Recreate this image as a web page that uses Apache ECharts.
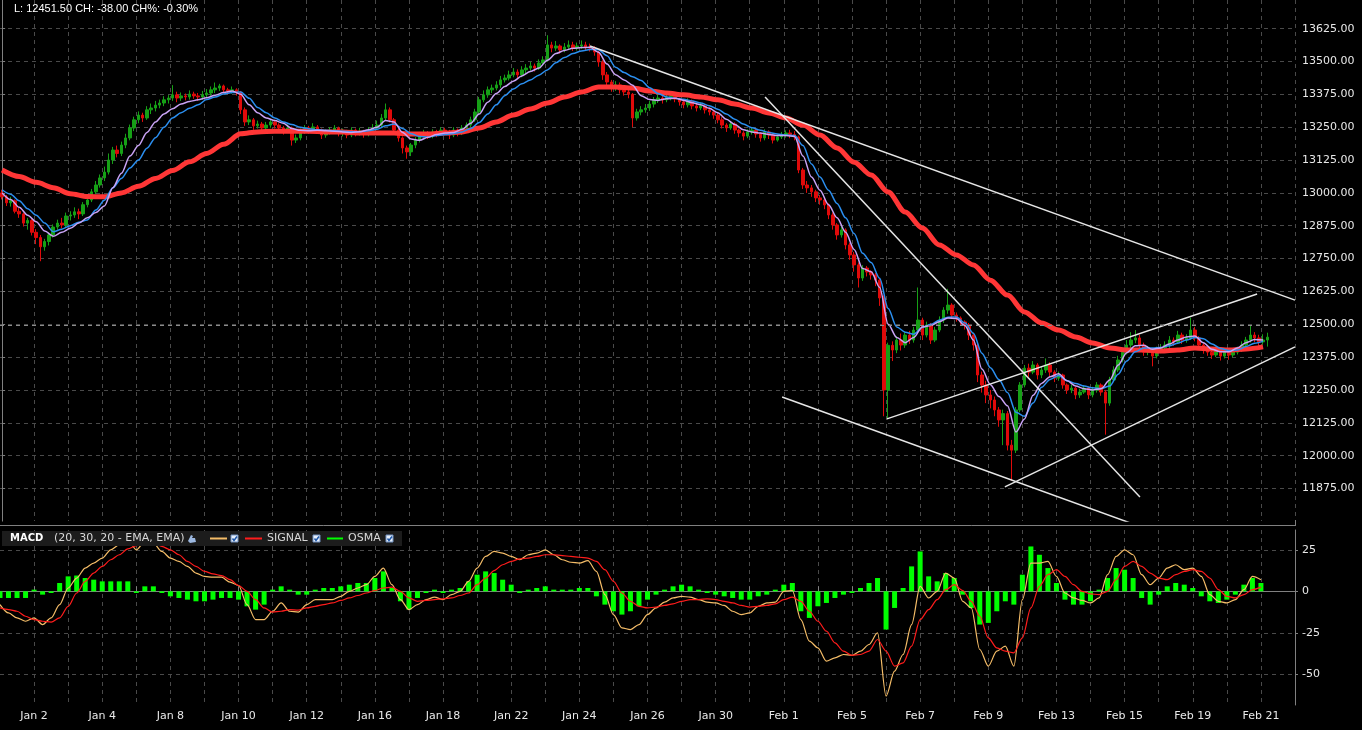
<!DOCTYPE html>
<html><head><meta charset="utf-8">
<script src="https://cdn.jsdelivr.net/npm/echarts@6.0.0/dist/echarts.min.js"></script>
<style>html,body{margin:0;padding:0;background:#000;}#c{width:1362px;height:730px;}</style>
</head><body><div id="c"></div>
<script>
// ---------- DATA ----------
const days = ['Dec 29','Jan 2','Jan 3','Jan 4','Jan 5','Jan 8','Jan 9','Jan 10','Jan 11','Jan 12','Jan 15','Jan 16','Jan 17','Jan 18','Jan 19','Jan 22','Jan 23','Jan 24','Jan 25','Jan 26','Jan 29','Jan 30','Jan 31','Feb 1','Feb 2','Feb 5','Feb 6','Feb 7','Feb 8','Feb 9','Feb 12','Feb 13','Feb 14','Feb 15','Feb 16','Feb 19','Feb 20','Feb 21'];
const barsPerDay = 8;

// [open, close, low, high] per bar
const ohlc = [
[13000,12985,12975,13012],[12985,12962,12950,12992],[12962,12970,12948,12985],[12970,12930,12922,12975],[12930,12920,12905,12942],[12920,12885,12872,12925],[12885,12895,12860,12905],[12895,12850,12838,12900],
[12850,12830,12805,12862],[12830,12795,12740,12840],[12795,12815,12780,12825],[12815,12840,12800,12850],[12840,12870,12830,12880],[12870,12885,12860,12898],[12885,12878,12865,12905],[12878,12912,12870,12925],
[12912,12916,12895,12930],[12916,12928,12905,12945],[12928,12920,12900,12940],[12920,12955,12912,12965],[12955,12973,12945,12990],[12973,13004,12965,13015],[13004,13030,12995,13045],[13030,13057,13020,13070],
[13057,13079,13045,13100],[13079,13125,13070,13150],[13125,13163,13110,13175],[13163,13150,13135,13180],[13150,13182,13140,13195],[13182,13209,13170,13225],[13209,13247,13200,13260],[13247,13278,13235,13290],
[13278,13296,13265,13310],[13296,13285,13270,13305],[13285,13316,13278,13330],[13316,13323,13300,13340],[13323,13334,13310,13350],[13334,13342,13322,13355],[13342,13354,13330,13368],[13354,13361,13340,13372],
[13361,13373,13350,13410],[13373,13361,13345,13385],[13361,13369,13350,13382],[13369,13365,13352,13378],[13365,13376,13355,13390],[13376,13369,13358,13385],[13369,13365,13350,13380],[13365,13373,13355,13388],
[13373,13380,13362,13395],[13380,13392,13370,13405],[13392,13399,13380,13420],[13399,13407,13388,13415],[13407,13392,13380,13412],[13392,13388,13375,13400],[13388,13392,13378,13405],[13392,13384,13370,13398],
[13384,13316,13300,13388],[13316,13270,13255,13325],[13270,13278,13258,13295],[13278,13255,13240,13285],[13255,13262,13245,13275],[13262,13247,13235,13270],[13247,13258,13240,13270],[13258,13270,13248,13282],
[13270,13258,13245,13278],[13258,13247,13232,13265],[13247,13239,13222,13255],[13239,13247,13228,13260],[13247,13201,13180,13252],[13201,13209,13190,13222],[13209,13232,13200,13245],[13232,13247,13225,13258],
[13247,13239,13225,13255],[13239,13251,13230,13265],[13251,13239,13228,13258],[13239,13220,13205,13245],[13220,13232,13210,13242],[13232,13239,13222,13250],[13239,13247,13230,13258],[13247,13228,13215,13252],
[13228,13232,13215,13245],[13232,13220,13208,13240],[13220,13239,13212,13250],[13239,13228,13215,13245],[13228,13235,13218,13248],[13235,13224,13210,13240],[13224,13239,13215,13250],[13239,13247,13230,13262],
[13247,13258,13240,13275],[13258,13285,13250,13300],[13285,13316,13275,13340],[13316,13278,13268,13325],[13278,13239,13228,13285],[13239,13209,13195,13245],[13209,13171,13150,13215],[13171,13156,13130,13180],
[13156,13182,13140,13190],[13182,13201,13170,13212],[13201,13220,13192,13232],[13220,13228,13210,13240],[13228,13216,13205,13235],[13216,13232,13208,13242],[13232,13224,13212,13240],[13224,13239,13218,13250],
[13239,13232,13220,13248],[13232,13220,13205,13240],[13220,13239,13212,13250],[13239,13228,13215,13245],[13228,13247,13220,13258],[13247,13258,13240,13268],[13258,13278,13250,13290],[13278,13308,13270,13320],
[13308,13354,13300,13365],[13354,13373,13345,13390],[13373,13392,13362,13405],[13392,13399,13380,13412],[13399,13411,13390,13425],[13411,13430,13400,13445],[13430,13437,13420,13450],[13437,13449,13428,13465],
[13449,13460,13440,13475],[13460,13449,13435,13470],[13449,13468,13440,13482],[13468,13475,13455,13490],[13475,13483,13465,13498],[13483,13475,13462,13492],[13475,13494,13468,13508],[13494,13506,13485,13520],
[13506,13563,13500,13600],[13563,13551,13535,13575],[13551,13559,13540,13578],[13559,13544,13530,13565],[13544,13555,13535,13570],[13555,13563,13545,13580],[13563,13551,13540,13575],[13551,13559,13542,13572],
[13559,13563,13548,13580],[13563,13555,13540,13575],[13555,13551,13538,13568],[13551,13536,13522,13558],[13536,13498,13480,13540],[13498,13449,13430,13505],[13449,13422,13405,13460],[13422,13399,13385,13430],
[13399,13411,13388,13425],[13411,13392,13378,13420],[13392,13384,13370,13400],[13384,13375,13360,13392],[13375,13285,13250,13380],[13285,13308,13275,13320],[13308,13316,13295,13330],[13316,13323,13305,13338],
[13323,13338,13312,13350],[13338,13354,13325,13365],[13354,13361,13342,13375],[13361,13354,13340,13370],[13354,13365,13345,13378],[13365,13369,13352,13382],[13369,13357,13345,13375],[13357,13346,13332,13362],
[13346,13335,13322,13355],[13335,13350,13325,13360],[13350,13331,13318,13355],[13331,13323,13310,13340],[13323,13331,13315,13345],[13331,13316,13302,13338],[13316,13308,13295,13325],[13308,13296,13282,13315],
[13296,13278,13265,13305],[13278,13258,13245,13288],[13258,13247,13232,13265],[13247,13262,13240,13272],[13262,13239,13225,13268],[13239,13228,13212,13245],[13228,13216,13200,13235],[13216,13232,13208,13242],
[13232,13239,13222,13250],[13239,13224,13210,13245],[13224,13209,13195,13230],[13209,13232,13200,13242],[13232,13220,13205,13238],[13220,13201,13188,13225],[13201,13213,13195,13222],[13213,13220,13205,13232],
[13220,13228,13210,13238],[13228,13222,13208,13240],[13222,13213,13200,13235],[13213,13087,13075,13218],[13087,13030,13015,13095],[13030,13019,13000,13045],[13019,13004,12985,13030],[13004,12981,12965,13012],
[12981,12973,12955,12992],[12973,12954,12938,12980],[12954,12916,12900,12960],[12916,12878,12860,12925],[12878,12840,12822,12885],[12840,12859,12830,12872],[12859,12802,12785,12865],[12802,12764,12745,12810],
[12764,12726,12700,12775],[12726,12676,12640,12735],[12676,12714,12665,12725],[12714,12699,12682,12722],[12699,12688,12670,12705],[12688,12668,12645,12695],[12668,12600,12570,12675],[12600,12250,12150,12610],
[12250,12420,12140,12430],[12420,12402,12360,12435],[12402,12440,12390,12455],[12440,12421,12400,12465],[12421,12459,12410,12470],[12459,12440,12425,12475],[12440,12478,12430,12490],[12478,12516,12470,12640],
[12516,12459,12440,12525],[12459,12497,12450,12510],[12497,12440,12425,12505],[12440,12478,12432,12490],[12478,12516,12470,12530],[12516,12554,12505,12565],[12554,12573,12540,12635],[12573,12535,12520,12580],
[12535,12524,12510,12545],[12524,12509,12495,12530],[12509,12497,12480,12515],[12497,12459,12440,12505],[12459,12421,12400,12468],[12421,12307,12280,12430],[12307,12269,12240,12320],[12269,12231,12200,12285],
[12231,12212,12180,12250],[12212,12174,12150,12225],[12174,12136,12110,12185],[12136,12160,12040,12175],[12160,12040,12020,12170],[12040,12021,11905,12060],[12021,12174,12010,12185],[12174,12269,12165,12280],
[12269,12333,12260,12345],[12333,12318,12300,12350],[12318,12345,12310,12360],[12345,12307,12290,12352],[12307,12326,12295,12340],[12326,12345,12315,12370],[12345,12318,12300,12355],[12318,12295,12280,12325],
[12295,12307,12285,12320],[12307,12269,12255,12312],[12269,12250,12235,12275],[12250,12257,12238,12270],[12257,12231,12215,12262],[12231,12242,12220,12255],[12242,12257,12235,12268],[12257,12231,12215,12262],
[12231,12250,12222,12262],[12250,12269,12240,12280],[12269,12242,12228,12275],[12242,12200,12080,12250],[12200,12288,12190,12300],[12288,12326,12280,12340],[12326,12364,12318,12380],[12364,12394,12355,12410],
[12394,12421,12385,12440],[12421,12440,12410,12470],[12440,12448,12428,12478],[12448,12421,12405,12460],[12421,12394,12380,12430],[12394,12402,12382,12418],[12402,12379,12340,12410],[12379,12402,12370,12415],
[12402,12410,12390,12425],[12410,12421,12398,12435],[12421,12440,12410,12455],[12440,12433,12418,12450],[12433,12459,12425,12475],[12459,12440,12425,12468],[12440,12448,12430,12462],[12448,12478,12440,12525],
[12478,12448,12435,12490],[12448,12421,12405,12455],[12421,12402,12388,12428],[12402,12394,12380,12412],[12394,12383,12368,12400],[12383,12402,12375,12415],[12402,12379,12362,12410],[12379,12394,12370,12405],
[12394,12383,12365,12400],[12383,12394,12375,12408],[12394,12402,12385,12415],[12402,12421,12395,12435],[12421,12440,12410,12452],[12440,12459,12430,12495],[12459,12448,12432,12470],[12448,12433,12418,12460],
[12433,12440,12422,12462],[12440,12451,12415,12468]
];

// fast MA (lavender), one value every 2 bars
const maFast = [
13000,12975,12945,12915,12890,12855,12835,12850,12865,12885,
12905,12925,12950,13020,13075,13140,13180,13230,13270,13300,
13320,13338,13348,13354,13362,13372,13382,13388,13375,13335,
13305,13285,13275,13265,13245,13238,13236,13238,13236,13235,
13232,13230,13233,13240,13250,13275,13270,13230,13205,13200,
13212,13222,13228,13230,13242,13265,13300,13345,13378,13405,
13425,13445,13462,13475,13505,13530,13542,13550,13553,13554,
13535,13490,13450,13430,13410,13370,13355,13352,13358,13360,
13352,13343,13335,13322,13305,13280,13260,13240,13232,13228,
13222,13218,13218,13215,13140,13060,13010,12955,12905,12850,
12785,12712,12700,12640,12500,12450,12430,12450,12490,12495,
12510,12524,12522,12495,12440,12330,12270,12225,12190,12090,
12140,12230,12275,12300,12312,12285,12265,12255,12250,12255,
12288,12345,12392,12418,12420,12405,12410,12425,12440,12452,
12455,12430,12405,12395,12395,12410,12430,12442,12440
];
// medium MA (blue), one value every 2 bars
const maMid = [
13012,12995,12970,12940,12915,12885,12852,12862,12875,12888,
12897,12935,12972,13020,13055,13095,13125,13170,13210,13250,
13285,13305,13322,13335,13355,13365,13376,13382,13384,13360,
13325,13305,13285,13270,13260,13250,13244,13240,13238,13236,
13235,13233,13233,13236,13242,13255,13262,13245,13225,13215,
13212,13218,13222,13226,13232,13245,13268,13300,13335,13370,
13395,13415,13430,13448,13468,13495,13515,13530,13540,13546,
13545,13522,13478,13458,13442,13428,13400,13378,13365,13360,
13356,13350,13342,13332,13318,13300,13280,13262,13248,13238,
13230,13224,13220,13218,13180,13110,13060,13010,12960,12905,
12845,12770,12735,12675,12560,12490,12470,12462,12488,12500,
12515,12527,12528,12505,12466,12390,12335,12290,12240,12165,
12150,12200,12260,12290,12305,12285,12275,12265,12258,12256,
12265,12310,12360,12395,12410,12410,12412,12418,12428,12440,
12450,12445,12425,12408,12400,12402,12415,12428,12435
];
// slow MA (thick red), one value every 4 bars
const maSlow = [
13087,13062,13040,13020,12997,12986,12985,13000,13025,13055,
13085,13118,13150,13185,13225,13232,13235,13235,13235,13232,
13232,13228,13228,13228,13224,13224,13228,13232,13247,13270,
13296,13319,13342,13365,13384,13403,13403,13399,13388,13380,
13373,13365,13354,13338,13323,13304,13285,13258,13220,13171,
13117,13068,13003,12927,12866,12802,12764,12726,12668,12611,
12547,12505,12478,12452,12429,12410,12402,12402,12398,12402,
12410,12406,12402,12406,12414
];
const fastStep = 2, slowStep = 4;

// MACD panel, one value every 2 bars
const macdLine = [
-8,-13,-16,-18,-16,-20,-16,-8,2,8,
14,17,20,25,28,31,25,30,29,24,
20,18,15,11,9,8.5,8.5,5.5,3.5,-8,
-17,-17,-12,-7,-12,-12.5,-8,-5,-5,-5,
-3,0,2,4,9,14,4,-5,-11,-8,
-5,-3.5,-5,-2,0,6,14,21,24,23,
21,19,22,23,25,22,19,17.5,17,18.5,
12,-2,-14,-22,-23,-20,-14,-10,-6.5,-4,
-3,-3.5,-5,-6.5,-7,-8.5,-12,-14,-13,-9,
-7,-6.5,0,0.5,-17,-30,-34,-42,-40,-38,
-38.5,-36,-32,-25,-63,-48,-38,-20,3,-4,
0,11,8,-6,-10,-35,-45,-36,-33,-45,
-5,17,17,18,9,-1,-4,-5.5,-7,-4,
10,21,25,22,10,4,8,14,16,13,
14,9,-2,-6,-7,-5,1,9,7
];
const signalLine = [
-10,-11,-12,-15,-17,-18,-18.5,-16,-9,-1,
6,11,15,19,22,25.5,27.5,28.5,29,27,
25,22,18,15,12,10.5,9.5,7,3.5,0,
-5,-10,-12.5,-12,-11,-11.3,-10,-9,-8,-7,
-5.5,-4,-2.5,-1,0.5,2,2.5,0,-4,-6,
-5.5,-5,-4.5,-4,-2.5,-1,4,8,12.5,16,
18,19.5,20,21,22,22,21.5,21,20.5,20,
18,13,6,-1,-6,-9,-10,-9.5,-8.5,-7.5,
-6,-5,-5,-4.5,-5,-6,-7,-8.5,-9.5,-9,
-8.5,-7.5,-5,-3.5,-6,-12,-18,-24,-31,-36,
-38.5,-38,-36,-29,-36,-45,-43,-33,-17,-11,
-5,1,4,0.5,-6,-15,-28,-34,-36,-37,
-28,-10,3,10,13,9,4,0,-1.5,-2,
0,7,15,18,15,11,8,7,10,12,
13,12,8,1,-3,-4,-2,1,2.5
];
const osma = [
-4,-4,-4,-4,1,-2,-1,5,9,9.5,
8,7,6,6,6,6,-1,3,3,-1,
-3,-4,-5,-6,-6,-5,-4,-4,-5,-9,
-11,-8,1,3,1,-2,-2,1,2,2,
3,4,5,5,8,12,2,-6,-11,-4,
-1,1,-1,1,2,6,10,12,11,7,
4,-1,1,2,3,1,1,1,2,2,
-3,-8,-12,-14,-12,-9,-5,-2,1,3,
4,3,1,-1,-2,-3,-4,-5,-5,-3,
-2,1,4,5,-12,-16,-9,-7,-4,-2,
-1,2,5,8,-23,-10,2,15,24,9,
6,11,8,-2,-10,-20,-19,-12,-6,-8,
10,27,22,14,5,-5,-8,-8,-6,1,
8,14,13,8,-4,-8,-2,3,5,4,
2,-3,-6,-7,-5,-2,4,8,5
];

// hand-drawn trend lines: [[barIndex, price], [barIndex, price]]
const trendLines = [
  [[138.0, 13559], [303.5, 12592]],
  [[179.1, 13365], [267.1, 11843]],
  [[183.1, 12223], [265.5, 11740]],
  [[207.7, 12140], [294.6, 12615]],
  [[235.4, 11881], [303.5, 12414]]
];
const priceLine = 12497;
const priceMin = 11751, priceMax = 13734, priceStep = 125;
const macdMin = -68.4, macdMax = 36.9, macdStep = 25;
const headerText = 'L: 12451.50 CH: -38.00 CH%: -0.30%';

// ---------- CHART ----------
const cats = [];
days.forEach(d => { for (let s = 0; s < barsPerDay; s++) cats.push(d + '|' + s); });
const macdCats = [];
for (let j = 0; j <= days.length * barsPerDay / fastStep; j++) macdCats.push((days[Math.floor(j / 4)] || '') + '|' + j);
const pairs = (arr, step) => arr.map((v, k) => [k * step, v]);

const FONT = 'DejaVu Sans';
const gridDash = { color: '#4a4a4a', type: [4, 4], width: 1 };
const axisGray = '#808080';
const labelColor = '#e8e8e8';

const chart = echarts.init(document.getElementById('c'), null, { width: 1362, height: 730 });

function checkbox(x, y) {
  return [
    { type: 'rect', shape: { x: x, y: y, width: 7, height: 7 }, style: { fill: '#e6eefa', stroke: '#6f8fbf', lineWidth: 1 }, z: 101 },
    { type: 'polyline', shape: { points: [[x + 1.5, y + 3.5], [x + 3, y + 5.5], [x + 6, y + 1.5]] }, style: { stroke: '#1d56a8', lineWidth: 1.5, fill: null }, z: 102 }
  ];
}

chart.setOption({
  backgroundColor: '#000',
  animation: false,
  textStyle: { fontFamily: FONT },
  grid: [
    { left: 0, right: 67, top: 0, height: 521.1 },
    { left: 0, right: 67, top: 530, height: 175 }
  ],
  xAxis: [
    { type: 'category', gridIndex: 0, data: cats, boundaryGap: true,
      axisLine: { show: false }, axisTick: { show: false }, axisLabel: { show: false },
      splitLine: { show: true, interval: (i) => i > 0 && i % barsPerDay === 0, lineStyle: gridDash } },
    { type: 'value', gridIndex: 0, min: -0.5, max: cats.length - 0.5, show: false },
    { type: 'category', gridIndex: 1, data: macdCats, boundaryGap: false,
      axisLine: { show: true, lineStyle: { color: axisGray } },
      axisTick: { show: true, inside: true, length: 5, interval: (i) => i > 0 && i % 4 === 0, lineStyle: { color: axisGray } },
      axisLabel: { interval: (i) => i % 8 === 4, formatter: (v) => v.split('|')[0], color: labelColor, fontSize: 11, margin: 6, fontFamily: FONT },
      splitLine: { show: true, interval: (i) => i > 0 && i % 4 === 0, lineStyle: gridDash } }
  ],
  yAxis: [
    { type: 'value', gridIndex: 0, position: 'right', min: priceMin, max: priceMax,
      minInterval: priceStep, maxInterval: priceStep, splitNumber: 16,
      axisLine: { show: true, lineStyle: { color: axisGray } },
      axisTick: { show: true, length: 3, lineStyle: { color: axisGray } },
      axisLabel: { color: labelColor, fontSize: 11, margin: 7, fontFamily: FONT, showMinLabel: false, showMaxLabel: false,
        formatter: (v) => (Math.abs(v / priceStep - Math.round(v / priceStep)) < 1e-6 ? v.toFixed(2) : '') },
      splitLine: { show: true, showMinLine: false, showMaxLine: false, lineStyle: gridDash } },
    { type: 'value', gridIndex: 1, position: 'right', min: macdMin, max: macdMax,
      minInterval: macdStep, maxInterval: macdStep, splitNumber: 4,
      axisLine: { show: true, lineStyle: { color: axisGray } },
      axisTick: { show: true, length: 3, lineStyle: { color: axisGray } },
      axisLabel: { color: labelColor, fontSize: 11, margin: 7, fontFamily: FONT, showMinLabel: false, showMaxLabel: false,
        formatter: (v) => (Math.abs(v / macdStep - Math.round(v / macdStep)) < 1e-6 ? String(Math.round(v)) : '') },
      splitLine: { show: true, showMinLine: false, showMaxLine: false, lineStyle: gridDash } }
  ],
  series: [
    { type: 'candlestick', xAxisIndex: 0, yAxisIndex: 0, data: ohlc, barWidth: 3,
      itemStyle: { color: '#16a016', color0: '#e00a0a', borderColor: '#16a016', borderColor0: '#e00a0a', borderWidth: 1 },
      markLine: { silent: true, symbol: ['none', 'none'], label: { show: false },
        lineStyle: { color: '#8c8c8c', type: [4, 4], width: 1 }, data: [{ yAxis: priceLine }] } },
    { type: 'line', xAxisIndex: 1, yAxisIndex: 0, data: pairs(maSlow, slowStep), symbol: 'none', smooth: 0.3, smoothMonotone: 'x',
      lineStyle: { color: '#ff3636', width: 5 } },
    { type: 'line', xAxisIndex: 1, yAxisIndex: 0, data: pairs(maMid, fastStep), symbol: 'none', smooth: 0.3, smoothMonotone: 'x',
      lineStyle: { color: '#2b8ff0', width: 1.5 } },
    { type: 'line', xAxisIndex: 1, yAxisIndex: 0, data: pairs(maFast, fastStep), symbol: 'none', smooth: 0.3, smoothMonotone: 'x',
      lineStyle: { color: '#c9a3f5', width: 1.5 } },
    ...trendLines.map(seg => ({ type: 'line', xAxisIndex: 1, yAxisIndex: 0, data: seg, symbol: 'none',
      lineStyle: { color: '#e6e6e6', width: 1.5 } })),
    { type: 'bar', xAxisIndex: 2, yAxisIndex: 1, data: osma, barWidth: 5, itemStyle: { color: '#00ff00' } },
    { type: 'line', xAxisIndex: 2, yAxisIndex: 1, data: macdLine, symbol: 'none', smooth: 0.3, smoothMonotone: 'x',
      lineStyle: { color: '#f5bd68', width: 1.2 } },
    { type: 'line', xAxisIndex: 2, yAxisIndex: 1, data: signalLine, symbol: 'none', smooth: 0.3, smoothMonotone: 'x',
      lineStyle: { color: '#ff1c1c', width: 1.2 } }
  ],
  graphic: [
    { type: 'text', x: 14, y: 9, z: 100, style: { text: headerText, fill: '#ffffff', font: '11px "Liberation Sans", Arial', verticalAlign: 'middle' } },
    { type: 'line', z: 100, shape: { x1: 0, y1: 525.5, x2: 1295, y2: 525.5 }, style: { stroke: axisGray, lineWidth: 1 } },
    { type: 'line', z: 100, shape: { x1: 1295.5, y1: 520, x2: 1295.5, y2: 526 }, style: { stroke: axisGray, lineWidth: 1 } },
    { type: 'rect', z: 100, shape: { x: 2, y: 531, width: 400, height: 15 }, style: { fill: '#1c1c1c' } },
    { type: 'text', x: 10, y: 538.5, z: 101, style: { text: 'MACD', fill: '#ffffff', font: 'bold 10px "DejaVu Sans"', verticalAlign: 'middle' } },
    { type: 'text', x: 54, y: 538.5, z: 101, style: { text: '(20, 30, 20 - EMA, EMA)', fill: '#d8d8d8', font: '11px "DejaVu Sans"', verticalAlign: 'middle' } },
    { type: 'polygon', z: 101, shape: { points: [[188, 541], [191, 535], [193, 536], [192, 538], [195, 538], [196, 542], [190, 543]] }, style: { fill: '#9cb8e0' } },
    { type: 'line', z: 101, shape: { x1: 210, y1: 538.5, x2: 227, y2: 538.5 }, style: { stroke: '#f5bd68', lineWidth: 2 } },
    ...checkbox(231, 535),
    { type: 'line', z: 101, shape: { x1: 245, y1: 538.5, x2: 262, y2: 538.5 }, style: { stroke: '#ff1c1c', lineWidth: 2 } },
    { type: 'text', x: 267, y: 538.5, z: 101, style: { text: 'SIGNAL', fill: '#d8d8d8', font: '11px "DejaVu Sans"', verticalAlign: 'middle' } },
    ...checkbox(313, 535),
    { type: 'line', z: 101, shape: { x1: 327, y1: 538.5, x2: 343, y2: 538.5 }, style: { stroke: '#00ff00', lineWidth: 2 } },
    { type: 'text', x: 348, y: 538.5, z: 101, style: { text: 'OSMA', fill: '#d8d8d8', font: '11px "DejaVu Sans"', verticalAlign: 'middle' } },
    ...checkbox(386, 535)
  ]
});
</script>
</body></html>
